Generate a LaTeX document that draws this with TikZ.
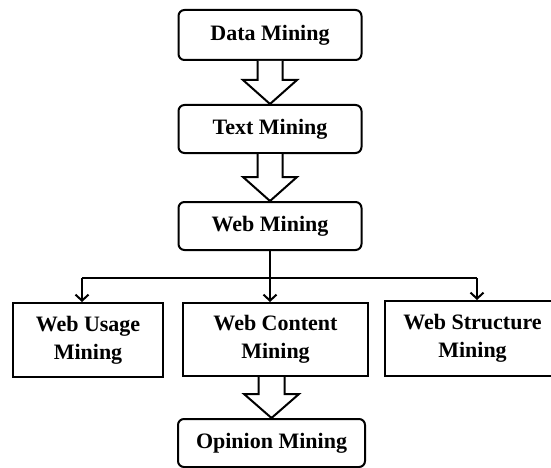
\documentclass[tikz,border=0pt]{standalone}
\usepackage{fontspec}
\setmainfont{Liberation Serif}
\usetikzlibrary{calc,arrows.meta}
\tikzset{
  box/.style={draw, line width=2pt, align=center, inner sep=0pt, font=\fontsize{22}{28}\selectfont\bfseries},
  rbox/.style={box, rounded corners=6pt, minimum height=48pt},
  sbox/.style={box, minimum height=74pt},
  conn/.style={line width=2pt},
  connarrow/.style={conn, -{Straight Barb[length=6pt,width=13pt,line width=2pt]}},
  blockarrow/.style={draw, line width=2pt, fill=white, line join=miter}
}
\newcommand{\blockarr}[4]{% from, to, shaft half width, head half width
  \draw[blockarrow] ($(#2.north |- #1.south)+(-#3,0)$) -- ($(#2.north)+(-#3,-24)$) -- ($(#2.north)+(-#4,-24)$) -- (#2.north) -- ($(#2.north)+(#4,-24)$) -- ($(#2.north)+(#3,-24)$) -- ($(#2.north |- #1.south)+(#3,0)$);
}
\begin{document}
\begin{tikzpicture}[x=1pt,y=-1pt]
\useasboundingbox (0,0) rectangle (551,468);
\clip (0,0) rectangle (551,468);
\node[rbox, minimum width=183pt, minimum height=50pt] (data) at (270,35) {Data Mining};
\node[rbox, minimum width=183pt] (text) at (270,129) {Text Mining};
\node[rbox, minimum width=183pt] (web) at (270,226) {Web Mining};
\node[sbox, minimum width=150pt] (usage) at (88,340) {Web Usage\\Mining};
\node[sbox, minimum width=185pt, minimum height=73pt] (content) at (275.5,339.5) {Web Content\\Mining};
\node[sbox, minimum width=175pt, minimum height=75pt] (structure) at (472.5,338.5) {Web Structure\\Mining};
\node[rbox, minimum width=187pt] (opinion) at (271.5,443) {Opinion Mining};

\blockarr{data}{text}{12.5}{27}
\blockarr{text}{web}{12.5}{27}
\blockarr{content}{opinion}{13}{27.5}

\coordinate (j) at ($(web.south)+(0,28)$);
\coordinate (jl) at (82,278);
\coordinate (jr) at (477,278);
\draw[conn] (web.south) -- (j);
\draw[conn] (jl) -- (jr);
\draw[connarrow] (jl) -- (jl |- usage.north);
\draw[connarrow] (j) -- (j |- content.north);
\draw[connarrow] (jr) -- (jr |- structure.north);
\end{tikzpicture}
\end{document}
